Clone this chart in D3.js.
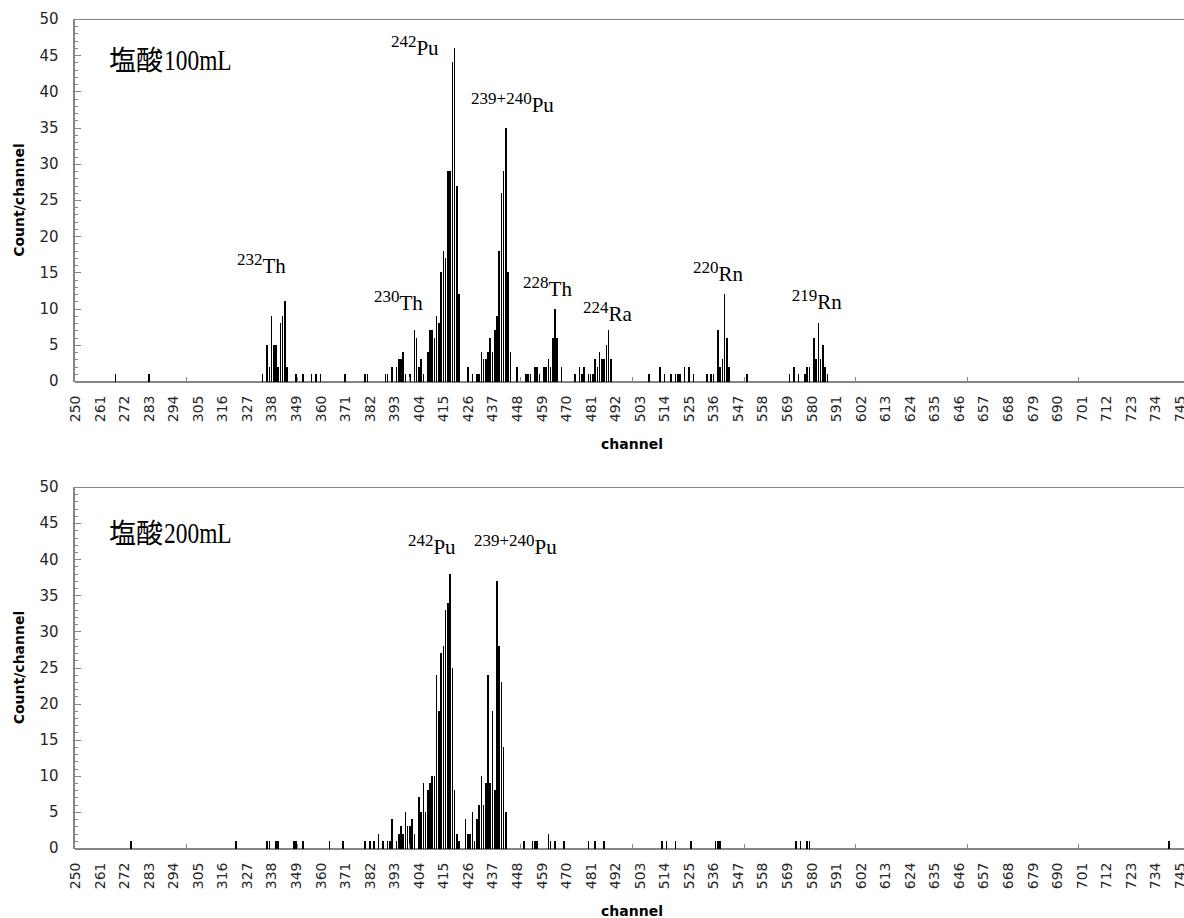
<!DOCTYPE html>
<html>
<head>
<meta charset="utf-8">
<script src="https://cdn.jsdelivr.net/npm/d3@7"></script>
<style>
  body { margin: 0; background: #fff; }
  svg { display: block; }
  .axis path, .axis line { stroke: #868686; shape-rendering: crispEdges; }
  .axis text { fill: #262626; font-family: "DejaVu Sans", Verdana, sans-serif; }
</style>
</head>
<body>
<svg id="chart" width="1184" height="918"></svg>
<script>
// channels on the category axis, labels every 11th one
const firstChannel = 250;
const lastChannel = 750;
const channelLabels = d3.range(250, 746, 11);
const channelMarks = d3.range(300, 751, 50);
const countTicks = d3.range(0, 51, 5);
const countMinor = d3.range(0, 51, 1);

// 塩酸100mL spectrum (only non-zero channels)
const topChannels = [268, 283,
  334, 336, 337, 338, 339, 340, 341, 342, 343, 344, 345,
  349, 352, 356, 358, 360, 371, 380, 381,
  389, 390, 392, 394, 395, 396, 397, 398, 400,
  402, 403, 404, 405, 406, 408, 409, 410, 411, 412, 413, 414, 415, 416, 417, 418, 419, 420, 421, 422,
  426, 428, 430, 431, 432, 433, 434, 435, 436, 437, 438, 439, 440, 441, 442, 443, 444, 445,
  448, 452, 453, 454, 456, 457, 458, 460, 461, 462, 463, 464, 465, 466, 468,
  474, 476, 477, 478, 480, 481, 482, 483, 484, 485, 486, 487, 488, 489, 490,
  507, 512, 514, 517, 519, 520, 521, 523, 525, 527, 533, 535, 536, 538, 539, 540, 541, 542, 543, 551,
  570, 572, 574, 577, 578, 579, 581, 582, 583, 584, 585, 586, 587];
const topCounts = [1, 1,
  1, 5, 2, 9, 5, 5, 2, 8, 9, 11, 2,
  1, 1, 1, 1, 1, 1, 1, 1,
  1, 1, 2, 2, 3, 3, 4, 1, 1,
  7, 6, 2, 3, 1, 4, 7, 7, 6, 9, 8, 15, 18, 17, 29, 29, 44, 46, 27, 12,
  2, 1, 1, 1, 4, 3, 3, 4, 6, 4, 7, 9, 18, 26, 29, 35, 15, 4,
  2, 1, 1, 1, 2, 2, 1, 2, 2, 3, 2, 6, 10, 6, 2,
  1, 2, 1, 2, 1, 1, 1, 3, 2, 4, 3, 3, 5, 7, 3,
  1, 2, 1, 1, 1, 1, 1, 2, 2, 1, 1, 1, 1, 7, 2, 3, 12, 6, 2, 1,
  1, 2, 1, 1, 2, 2, 6, 3, 8, 3, 5, 2, 1];

// 塩酸200mL spectrum
const bottomChannels = [275, 322, 336, 337, 340, 341, 348, 349, 352, 364, 370, 380, 382, 384, 386, 388, 390, 391,
  392, 394, 395, 396, 397, 398, 399, 400, 401, 402, 404, 405, 406, 407, 408, 409, 410, 411,
  412, 413, 414, 415, 416, 417, 418, 419, 420, 421, 422,
  425, 426, 427, 428, 429, 430, 431, 432, 433, 434, 435, 436, 437, 438, 439, 440, 441, 442, 443,
  451, 455, 456, 457, 462, 463, 465, 469, 480, 483, 487, 513, 515, 519, 526, 537, 538, 539,
  573, 575, 578, 579, 740];
const bottomCounts = [1, 1, 1, 1, 1, 1, 1, 1, 1, 1, 1, 1, 1, 1, 2, 1, 1, 1,
  4, 1, 2, 3, 2, 5, 3, 3, 4, 2, 7, 5, 9, 5, 8, 9, 10, 10,
  24, 19, 27, 28, 33, 34, 38, 25, 8, 2, 1,
  4, 2, 2, 5, 1, 4, 6, 10, 6, 9, 24, 9, 19, 8, 37, 28, 23, 14, 5,
  1, 1, 1, 1, 2, 1, 1, 1, 1, 1, 1, 1, 1, 1, 1, 1, 1, 1,
  1, 1, 1, 1, 1];

const topTitle = ["塩酸", "100mL"];
const bottomTitle = ["塩酸", "200mL"];
const topNuclides = [["232", "Th"], ["230", "Th"], ["242", "Pu"], ["239+240", "Pu"],
  ["228", "Th"], ["224", "Ra"], ["220", "Rn"], ["219", "Rn"]];
const bottomNuclides = [["242", "Pu"], ["239+240", "Pu"]];

// where the labels sit, in channel / count units
const topLabelAt = [[323, 14.85], [384.4, 9.74], [392, 45], [427.9, 37.1],
  [451.2, 11.8], [478, 8.22], [527.3, 13.88], [571.6, 9.88]];
const bottomLabelAt = [[399.6, 40.7], [429.2, 40.7]];
const topTitleAt = [265.7, 43];
const bottomTitleAt = [265.7, 42.2];

const svg = d3.select("#chart");
const step = 2.232;
const left = 74;
const right = left + (lastChannel - firstChannel + 1) * step;

const x = d3.scaleBand()
  .domain(d3.range(firstChannel, lastChannel + 1))
  .range([left, right])
  .paddingInner(0.3)
  .paddingOuter(0.15);
const xl = d3.scaleLinear().domain([firstChannel, lastChannel + 1]).range([left, right]);

function drawPanel(top, zero, channels, counts, title, titleAt, nuclides, labelAt) {
  const y = d3.scaleLinear().domain([0, 50]).range([zero, top]);
  const g = svg.append("g");

  g.append("rect")
    .attr("x", left - 0.5).attr("y", top + 0.5)
    .attr("width", right - left).attr("height", zero - top)
    .attr("fill", "none").attr("stroke", "#868686")
    .style("shape-rendering", "crispEdges");

  // minor and major y ticks
  g.append("g").attr("class", "axis")
    .attr("transform", `translate(${left - 0.5},0)`)
    .call(d3.axisLeft(y).tickValues(countMinor).tickSize(-4).tickFormat(""))
    .select(".domain").remove();
  const ya = g.append("g").attr("class", "axis")
    .attr("transform", `translate(${left - 0.5},0)`)
    .call(d3.axisLeft(y).tickValues(countTicks).tickSizeInner(-7).tickSizeOuter(0).tickPadding(15));
  ya.selectAll("text").style("font-size", "15px");

  // bars
  const data = channels.map((c, i) => ({ c: c, v: counts[i] }));
  g.selectAll(".bar").data(data).enter()
    .append("rect").attr("class", "bar")
    .attr("x", d => x(d.c))
    .attr("width", x.bandwidth())
    .attr("y", d => y(d.v))
    .attr("height", d => y(0) - y(d.v) + 1)
    .attr("fill", "#000")
    .style("shape-rendering", "crispEdges");

  // tick marks every 50 channels
  g.append("g").attr("class", "axis")
    .attr("transform", `translate(0,${zero + 0.5})`)
    .call(d3.axisBottom(xl).tickValues(channelMarks).tickSize(-5).tickFormat(""))
    .select(".domain").remove();

  // category labels
  const xa = g.append("g").attr("class", "axis")
    .attr("transform", `translate(0,${zero + 0.5})`)
    .call(d3.axisBottom(x).tickValues(channelLabels).tickSize(0).tickSizeOuter(0));
  xa.select(".domain").attr("stroke", "#808080");
  xa.selectAll("text")
    .style("font-size", "14px")
    .style("text-anchor", "end")
    .attr("transform", "rotate(-90)")
    .attr("x", -14).attr("y", 0).attr("dy", "0.35em");

  g.append("text")
    .attr("transform", `translate(24,${(top + zero) / 2}) rotate(-90)`)
    .attr("text-anchor", "middle")
    .style("font-family", "'DejaVu Sans', sans-serif")
    .style("font-weight", "bold").style("font-size", "14px")
    .text("Count/channel");

  g.append("text")
    .attr("x", 632).attr("y", zero + 68)
    .attr("text-anchor", "middle")
    .style("font-family", "'DejaVu Sans', sans-serif")
    .style("font-weight", "bold").style("font-size", "14px")
    .text("channel");

  // sample title
  const tx = xl(titleAt[0]), ty = y(titleAt[1]);
  const cjk = g.append("text")
    .attr("x", tx).attr("y", ty)
    .style("font-family", "'Noto Sans CJK JP', sans-serif")
    .style("font-size", "27px")
    .text(title[0]);
  const w = cjk.node().getComputedTextLength();
  g.append("text")
    .attr("transform", `translate(${tx + w + 1},${ty}) scale(0.78,1)`)
    .style("font-family", "'Liberation Serif', serif")
    .style("font-size", "30px")
    .text(title[1]);

  // nuclide labels
  nuclides.forEach((n, i) => {
    const t = g.append("text")
      .attr("x", xl(labelAt[i][0])).attr("y", y(labelAt[i][1]))
      .style("font-family", "'Liberation Serif', 'Times New Roman', serif");
    t.append("tspan").style("font-size", "17px").attr("dy", -8).text(n[0]);
    t.append("tspan").style("font-size", "21px").attr("dy", 8).text(n[1]);
  });
}

drawPanel(19, 381, topChannels, topCounts, topTitle, topTitleAt, topNuclides, topLabelAt);
drawPanel(487, 848, bottomChannels, bottomCounts, bottomTitle, bottomTitleAt, bottomNuclides, bottomLabelAt);
</script>
</body>
</html>
